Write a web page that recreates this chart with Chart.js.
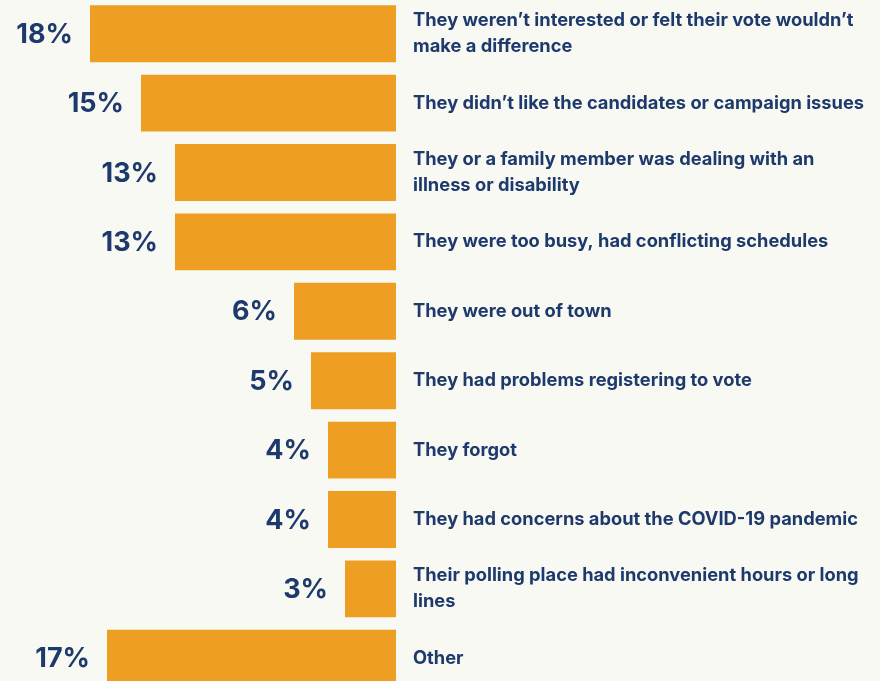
<!DOCTYPE html>
<html>
<head>
<meta charset="utf-8">
<script src="https://cdn.jsdelivr.net/npm/chart.js@4"></script>
<style>
  html, body { margin: 0; padding: 0; background: #f9f9f4; overflow: hidden; }
  #wrap { position: relative; top: -1px; width: 880px; height: 694px; }
</style>
</head>
<body>
<div id="wrap"><canvas id="reasonsChart"></canvas></div>
<script>
// --- Reasons for not voting ---

const reasons = [
    ['They weren\u2019t interested or felt their vote wouldn\u2019t', 'make a difference'],
    'They didn\u2019t like the candidates or campaign issues',
    ['They or a family member was dealing with an', 'illness or disability'],
    'They were too busy, had conflicting schedules',
    'They were out of town',
    'They had problems registering to vote',
    'They forgot',
    'They had concerns about the COVID-19 pandemic',
    ['Their polling place had inconvenient hours or long', 'lines'],
    'Other'
];
const shares = [18, 15, 13, 13, 6, 5, 4, 4, 3, 17];

const navy = '#1e3a6c';
const orange = '#ed9e23';

// draws "18%" etc. to the left of each bar
const valueLabels = {
    id: 'valueLabels',
    afterDatasetsDraw(chart) {
        const ctx = chart.ctx;
        const meta = chart.getDatasetMeta(0);
        ctx.save();
        ctx.fillStyle = navy;
        ctx.font = '700 27px Inter';
        ctx.textAlign = 'right';
        ctx.textBaseline = 'middle';
        meta.data.forEach((bar, i) => {
            ctx.fillText(shares[i] + '%', bar.x - 17, bar.y + 1);
        });
        ctx.restore();
    }
};

document.addEventListener('DOMContentLoaded', function () {
    let ctx = document.getElementById('reasonsChart').getContext('2d');

    new Chart(ctx, {
        type: 'bar',
        data: {
            labels: reasons,
            datasets: [{
                data: shares,
                backgroundColor: orange,
                borderWidth: 0,
                barPercentage: 0.82,
                categoryPercentage: 1
            }]
        },
        options: {
            indexAxis: 'y',
            responsive: true,
            maintainAspectRatio: false,
            animation: false,
            layout: { padding: 0 },
            scales: {
                x: {
                    display: false,
                    reverse: true,
                    min: 0,
                    max: 396 / 17
                },
                y: {
                    position: 'right',
                    grid: { display: false, drawTicks: false },
                    border: { display: false },
                    afterFit: function (scale) {
                        scale.width = 484;
                        scale.paddingTop = 0;
                        scale.paddingBottom = 0;
                    },
                    ticks: {
                        padding: 17,
                        color: navy,
                        font: { family: 'Inter', size: 18.3, weight: '700', lineHeight: 1.42 }
                    }
                }
            },
            plugins: {
                legend: { display: false },
                tooltip: { enabled: false }
            }
        },
        plugins: [valueLabels]
    });
});
</script>
</body>
</html>
